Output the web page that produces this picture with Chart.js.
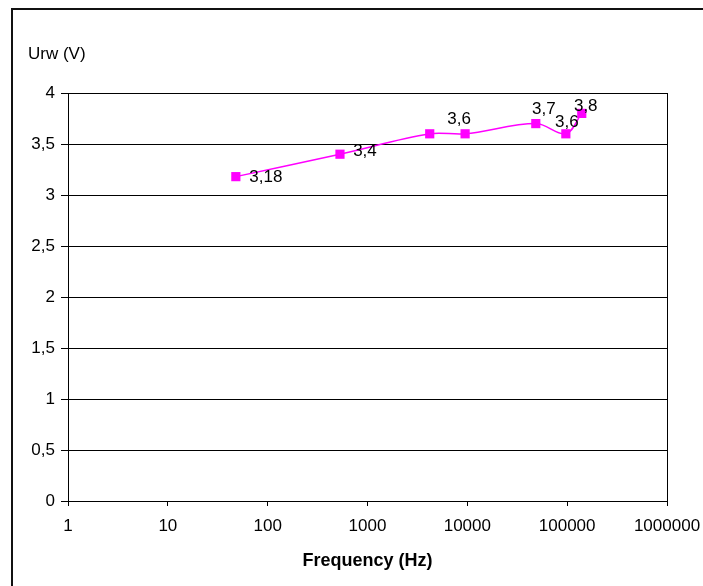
<!DOCTYPE html>
<html>
<head>
<meta charset="utf-8">
<script src="https://cdn.jsdelivr.net/npm/chart.js@4"></script>
<style>
  html, body { margin: 0; padding: 0; background: #fff; }
  #wrap { width: 703px; height: 586px; position: relative; }
</style>
</head>
<body>
<div id="wrap"><canvas id="c" width="703" height="586"></canvas></div>
<script>
// ---- data ----
const frequencies = [48, 530, 4200, 9500, 48500, 97000, 140000];
const voltages = [3.18, 3.4, 3.6, 3.6, 3.7, 3.6, 3.8];
const pointLabels = ['3,18', '3,4', null, '3,6', '3,7', '3,6', '3,8'];
const xTickValues = [1, 10, 100, 1000, 10000, 100000, 1000000];
const yAxisTitle = 'Urw (V)';
const xAxisTitle = 'Frequency (Hz)';

const FONT = "'Liberation Sans', Arial, sans-serif";
const MAG = '#FF00FF';

const extrasPlugin = {
  id: 'extras',
  beforeDraw(chart) {
    const ctx = chart.ctx;
    ctx.save();
    ctx.fillStyle = '#fff';
    ctx.fillRect(0, 0, chart.width, chart.height);
    ctx.strokeStyle = '#111';
    ctx.lineWidth = 2;
    ctx.strokeRect(12, 9, 900, 900);
    ctx.restore();
  },
  afterDraw(chart) {
    const ctx = chart.ctx;
    ctx.save();
    ctx.fillStyle = '#000';
    ctx.font = '17px ' + FONT;
    ctx.textAlign = 'left';
    ctx.textBaseline = 'middle';
    ctx.fillText(yAxisTitle, 28, 54);
    ctx.restore();
  },
  afterDatasetsDraw(chart, args, opts) {
    const ctx = chart.ctx;
    const meta = chart.getDatasetMeta(0);
    ctx.save();
    ctx.fillStyle = '#000';
    ctx.font = '17px ' + FONT;
    ctx.textAlign = 'center';
    ctx.textBaseline = 'middle';
    meta.data.forEach((pt, i) => {
      const lbl = pointLabels[i];
      const off = opts.offsets[i];
      if (!lbl || !off) return;
      ctx.fillText(lbl, pt.x + off[0], pt.y + off[1]);
    });
    ctx.restore();
  }
};

new Chart(document.getElementById('c'), {
  type: 'scatter',
  data: {
    datasets: [{
      data: frequencies.map((f, i) => ({ x: f, y: voltages[i] })),
      showLine: true,
      borderColor: MAG,
      backgroundColor: MAG,
      borderWidth: 1.5,
      pointStyle: 'rect',
      pointRadius: 6.5,
      pointBorderWidth: 0,
      pointBackgroundColor: MAG,
      tension: 0.35,
      clip: false
    }]
  },
  options: {
    responsive: false,
    animation: false,
    devicePixelRatio: 1,
    layout: { padding: { top: 93, right: 36, left: 0, bottom: 0 } },
    plugins: {
      legend: { display: false },
      tooltip: { enabled: false },
      extras: { offsets: [[30, 1], [25, -3], null, [-6, -14], [8, -14], [1, -11], [4, -7]] }
    },
    scales: {
      x: {
        type: 'logarithmic',
        min: 1,
        max: 1000000,
        afterBuildTicks(scale) {
          scale.ticks = xTickValues.map(v => ({ value: v }));
        },
        afterFit(scale) {
          scale.height = 85;
          scale.paddingLeft = 0;
          scale.paddingRight = 0;
        },
        ticks: {
          autoSkip: false,
          maxRotation: 0,
          color: '#000',
          font: { family: FONT, size: 17 },
          padding: 10,
          callback: (v) => String(v)
        },
        grid: {
          color: (c) => (c.tick && c.tick.value === 1000000 ? '#000' : 'rgba(0,0,0,0)'),
          tickColor: '#000',
          tickLength: 5,
          lineWidth: 1
        },
        border: { color: '#000', width: 1 },
        title: {
          display: true,
          text: xAxisTitle,
          color: '#000',
          font: { family: FONT, size: 18, weight: 'bold' },
          padding: { top: 0, bottom: 14 }
        }
      },
      y: {
        type: 'linear',
        min: 0,
        max: 4,
        afterFit(scale) { scale.width = 68; },
        ticks: {
          stepSize: 0.5,
          color: '#000',
          font: { family: FONT, size: 17 },
          padding: 6,
          callback: (v) => String(v).replace('.', ',')
        },
        grid: {
          color: '#000',
          tickColor: '#000',
          tickLength: 7,
          lineWidth: 1
        },
        border: { color: '#000', width: 1 }
      }
    }
  },
  plugins: [extrasPlugin]
});
</script>
</body>
</html>
